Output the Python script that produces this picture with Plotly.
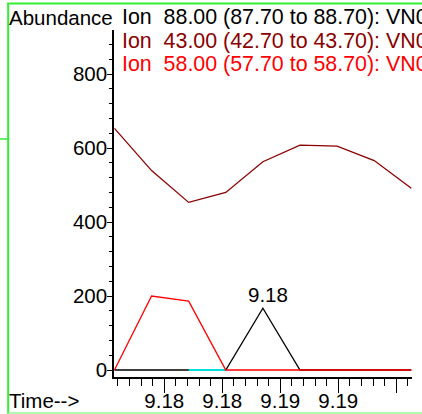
import plotly.graph_objects as go

# ---- data ----
scan_times = [9.1707, 9.1739, 9.1771, 9.1803, 9.1835, 9.1867, 9.1899, 9.1931, 9.1963]
ion88 = [0, 0, 0, 0, 167, 0, 0, 0, 0]
ion43 = [653, 539, 453, 480, 563, 608, 605, 566, 491]
ion58 = [0, 200, 186, 0, 0, 0, 0, 0, 0]
baseline_idx = [2, 3]
baseline_vals = [0, 0]

legend_labels = [
    "Ion\u00a0\u00a088.00 (87.70 to 88.70): VN0",
    "Ion\u00a0\u00a043.00 (42.70 to 43.70): VN0",
    "Ion\u00a0\u00a058.00 (57.70 to 58.70): VN0",
]
x_tickvals = [9.175, 9.180, 9.185, 9.190, 9.195]
x_ticktext = ["9.18", "9.18", "9.19", "9.19", ""]
y_tickvals = [0, 200, 400, 600, 800]

FONT = "Liberation Sans, Arial, Helvetica, sans-serif"
W, H = 422, 414
PL, PR, PT, PB = 114, 412.5, 30, 377


def px(x):
    return (x - PL) / (PR - PL)


def py(y):
    return (PB - y) / (PB - PT)


fig = go.Figure()
fig.add_trace(go.Scatter(x=scan_times, y=ion88, mode="lines",
                         line=dict(color="#000000", width=1.3)))
fig.add_trace(go.Scatter(x=[scan_times[i] for i in baseline_idx], y=baseline_vals,
                         mode="lines", line=dict(color="#00dede", width=2)))
fig.add_trace(go.Scatter(x=scan_times, y=ion43, mode="lines",
                         line=dict(color="#8b0000", width=1.3)))
fig.add_trace(go.Scatter(x=scan_times, y=ion58, mode="lines",
                         line=dict(color="#ff0000", width=1.3)))

# apex label
apex_i = max(range(len(ion88)), key=lambda i: ion88[i])
annotations = [dict(x=scan_times[apex_i], y=ion88[apex_i], xref="x", yref="y",
                    text=f"{scan_times[apex_i]:.2f}", showarrow=False,
                    xanchor="center", yanchor="middle", xshift=5, yshift=14,
                    font=dict(family=FONT, size=20.5, color="black"))]

colors = ["#000000", "#8b0000", "#ff0000"]
line_y = [17.5, 41, 64.5]
for lbl, c, yy in zip(legend_labels, colors, line_y):
    annotations.append(dict(x=px(120), y=py(yy), xref="paper", yref="paper",
                            text=lbl, showarrow=False, xanchor="left", yanchor="middle",
                            font=dict(family=FONT, size=21.4, color=c)))
annotations.append(dict(x=px(7), y=py(17), xref="paper", yref="paper", text="Abundance",
                        showarrow=False, xanchor="left", yanchor="middle",
                        font=dict(family=FONT, size=20.5, color="black")))
annotations.append(dict(x=px(7), y=py(400), xref="paper", yref="paper", text="Time-->",
                        showarrow=False, xanchor="left", yanchor="middle",
                        font=dict(family=FONT, size=20.5, color="black")))

green = "#33ee33"
shapes = [
    dict(type="line", xref="paper", yref="paper", x0=px(8), x1=px(8), y0=py(3), y1=py(416),
         line=dict(color=green, width=2)),
    dict(type="line", xref="paper", yref="paper", x0=px(7), x1=px(425), y0=py(3.5), y1=py(3.5),
         line=dict(color=green, width=2)),
    dict(type="line", xref="paper", yref="paper", x0=px(7), x1=px(425), y0=py(413), y1=py(413),
         line=dict(color="#99f599", width=1.5)),
    dict(type="line", xref="paper", yref="paper", x0=px(-2), x1=px(8), y0=py(139), y1=py(139),
         line=dict(color=green, width=1.5)),
]

fig.update_layout(
    width=W, height=H,
    margin=dict(l=PL, r=W - PR, t=PT, b=H - PB, pad=0, autoexpand=False),
    paper_bgcolor="white", plot_bgcolor="white",
    showlegend=False,
    annotations=annotations,
    shapes=shapes,
    font=dict(family=FONT, size=20.5, color="black"),
)

ymin, ymax = -(PB - 370) / 0.37, (370 - PT) / 0.37
fig.update_yaxes(range=[ymin, ymax], tickvals=y_tickvals, showgrid=False, zeroline=False,
                 automargin=False, ticklabelstandoff=-4,
                 showline=True, linecolor="black", linewidth=1.5,
                 ticks="outside", ticklen=5, tickcolor="black", tickwidth=1,
                 tickfont=dict(family=FONT, size=20.5, color="black"),
                 minor=dict(dtick=40, tick0=0, ticks="outside", ticklen=3,
                            tickcolor="black", showgrid=False))
fig.update_xaxes(range=[scan_times[0] - 0.00004, scan_times[-1] + 0.00006],
                 automargin=False, ticklabelstandoff=-9,
                 tickvals=x_tickvals, ticktext=x_ticktext, showgrid=False, zeroline=False,
                 showline=True, linecolor="black", linewidth=1.5,
                 ticks="outside", ticklen=14, tickcolor="black", tickwidth=1,
                 tickfont=dict(family=FONT, size=20.5, color="black"),
                 minor=dict(dtick=0.001, tick0=9.175, ticks="outside", ticklen=7,
                            tickcolor="black", showgrid=False))

fig.write_html("out.html", config={"displayModeBar": False},
               post_script="document.body.style.margin='0';document.body.style.overflow='hidden';")
